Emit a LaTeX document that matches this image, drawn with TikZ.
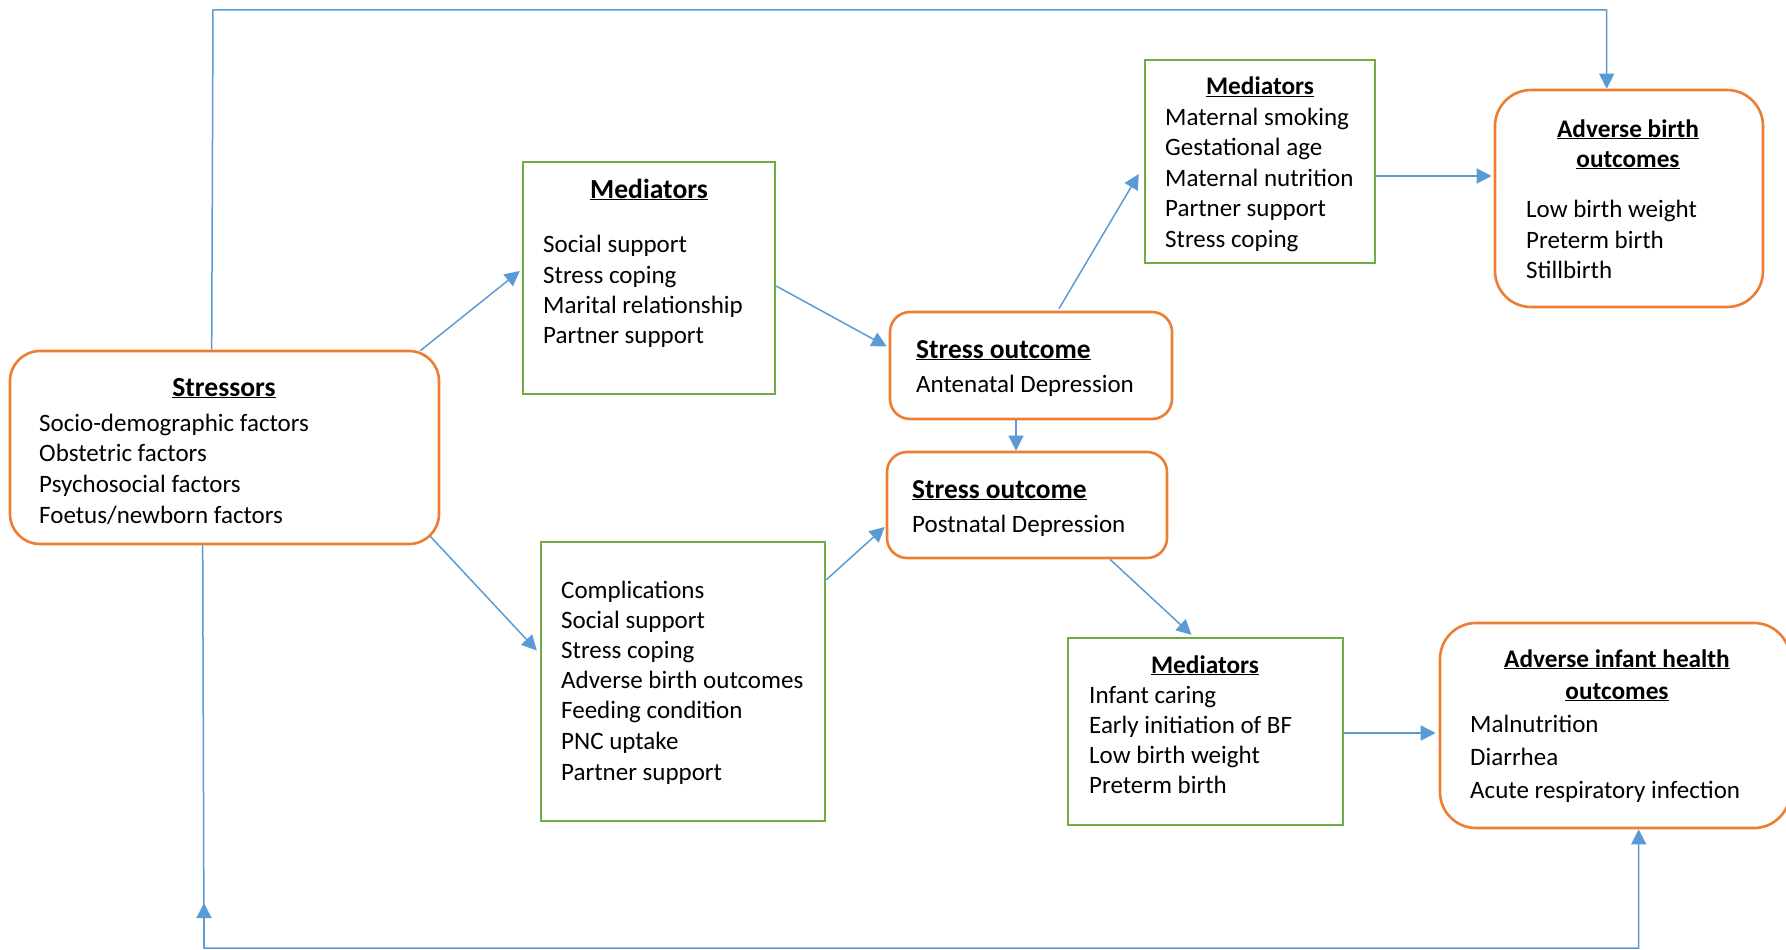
\documentclass[tikz,border=0pt]{standalone}
\usepackage{fontspec}
\setmainfont{Carlito}
\usetikzlibrary{arrows.meta,calc}
\definecolor{boxorange}{HTML}{ED7D31}
\definecolor{boxgreen}{HTML}{70AD47}
\definecolor{linkblue}{HTML}{5B9BD5}
\begin{document}
\begin{tikzpicture}[x=1pt,y=-1pt,
  outcome/.style={draw=boxorange, line width=2.6pt, rounded corners=#1, inner sep=0pt, fill=white},
  outcome/.default=32pt,
  mediator/.style={draw=boxgreen, line width=2.4pt, inner sep=0pt, fill=white},
  link/.style={draw=linkblue, line width=1.5pt},
  arr/.style={link, -{Triangle[length=15pt,width=15pt]}},
  txt/.style={anchor=base west, inner sep=0pt, font=\fontsize{25}{30}\selectfont},
  ttl/.style={anchor=base, inner sep=0pt, font=\fontsize{25.3}{30}\selectfont\bfseries},
  ttlw/.style={anchor=base west, inner sep=0pt, font=\fontsize{27.4}{32}\selectfont\bfseries},
  bigttl/.style={ttl, font=\fontsize{27.6}{32}\selectfont\bfseries}]
\useasboundingbox (0,0) rectangle (1786,950);

% boxes
\node[outcome=30pt, minimum width=429, minimum height=193] (str) at (224.5,447.5) {};
\node[mediator, minimum width=252, minimum height=232] (med1) at (649,278) {};
\node[outcome=20pt, minimum width=282, minimum height=107] (ante) at (1031,365.5) {};
\node[outcome=20pt, minimum width=280, minimum height=106] (post) at (1027,505) {};
\node[mediator, minimum width=230, minimum height=203] (med2) at (1260,161.5) {};
\node[outcome=36pt, minimum width=268, minimum height=217] (birth) at (1629,198.5) {};
\node[mediator, minimum width=284, minimum height=279] (comp) at (683,681.5) {};
\node[mediator, minimum width=275, minimum height=187] (med3) at (1205.5,731.5) {};
\node[outcome=36pt, minimum width=350, minimum height=205] (inf) at (1615,725.5) {};

% stressors
\node[bigttl] (strT) at (224,396) {\underline{Stressors}};
\node[txt] (str1) at (39,431) {Socio-demographic factors};
\node[txt] (str2) at (39,461) {Obstetric factors};
\node[txt] (str3) at (39,492) {Psychosocial factors};
\node[txt] (str4) at (39,523) {Foetus/newborn factors};

% first mediators
\node[bigttl] (med1T) at (649,198) {\underline{Mediators}};
\node[txt] (med1a) at (543,252) {Social support};
\node[txt] (med1b) at (543,283) {Stress coping};
\node[txt] (med1c) at (543,313) {Marital relationship};
\node[txt] (med1d) at (543,343) {Partner support};

% stress outcomes
\node[ttlw] (anteT) at (916,358) {\underline{Stress outcome}};
\node[txt] (ante1) at (916,392) {Antenatal Depression};
\node[ttlw] (postT) at (912,498) {\underline{Stress outcome}};
\node[txt] (post1) at (912,532) {Postnatal Depression};

% second mediators
\node[ttl] (med2T) at (1260,95) {\underline{Mediators}};
\node[txt] (med2a) at (1165,125) {Maternal smoking};
\node[txt] (med2b) at (1165,155.5) {Gestational age};
\node[txt] (med2c) at (1165,186) {Maternal nutrition};
\node[txt] (med2d) at (1165,216.5) {Partner support};
\node[txt] (med2e) at (1165,247) {Stress coping};

% adverse birth outcomes
\node[ttl] (birthT1) at (1628,137) {\underline{Adverse birth}};
\node[ttl] (birthT2) at (1628,167) {\underline{outcomes}};
\node[txt] (birth1) at (1526,217) {Low birth weight};
\node[txt] (birth2) at (1526,248) {Preterm birth};
\node[txt] (birth3) at (1526,278) {Stillbirth};

% postnatal factors
\node[txt] (comp1) at (561,598) {Complications};
\node[txt] (comp2) at (561,628) {Social support};
\node[txt] (comp3) at (561,658) {Stress coping};
\node[txt] (comp4) at (561,688) {Adverse birth outcomes};
\node[txt] (comp5) at (561,718) {Feeding condition};
\node[txt] (comp6) at (561,749) {PNC uptake};
\node[txt] (comp7) at (561,780) {Partner support};

% third mediators
\node[ttl] (med3T) at (1205,673) {\underline{Mediators}};
\node[txt] (med3a) at (1089,703) {Infant caring};
\node[txt] (med3b) at (1089,733) {Early initiation of BF};
\node[txt] (med3c) at (1089,763) {Low birth weight};
\node[txt] (med3d) at (1089,793) {Preterm birth};

% adverse infant health outcomes
\node[ttl] (infT1) at (1617,667) {\underline{Adverse infant health}};
\node[ttl] (infT2) at (1617,699) {\underline{outcomes}};
\node[txt] (inf1) at (1470,732) {Malnutrition};
\node[txt] (inf2) at (1470,765) {Diarrhea};
\node[txt] (inf3) at (1470,798) {Acute respiratory infection};

% connectors
\coordinate (topbend) at (213,10);
\coordinate (botbend) at (204,948);
\draw[arr] ($(str.north west)+(203,0)$) -- (topbend) -| ($(birth.north west)+(113,0)$);
\draw[arr] ($(str.south west)+(194,0)$) -- (botbend) -| ($(inf.south west)+(200,0)$);
\draw[arr] (botbend) -- ++(0,-45);
\draw[arr] ($(str.north east)+(-20,1)$) -- ($(med1.west)+(-2,-7)$);
\draw[arr] ($(med1.east)+(0,8)$) -- ($(ante.west)+(-2,-19)$);
\draw[arr] ($(ante.north)+(28,-2)$) -- ($(med2.west)+(-5,12.5)$);
\draw[arr] ($(med2.east)+(0,14.5)$) -- ($(birth.west)+(-2,-22.5)$);
\draw[arr] ($(ante.south)+(-15,0)$) -- ($(post.north)+(-11,0)$);
\draw[arr] ($(str.south east)+(-10,-9)$) -- ($(comp.west)+(-3,-31)$);
\draw[arr] ($(comp.north east)+(0,39)$) -- ($(post.west)+(-1,22)$);
\draw[arr] ($(post.south)+(83,0)$) -- ($(med3.north)+(-14,-2)$);
\draw[arr] ($(med3.east)+(0,1.5)$) -- ($(inf.west)+(-3,7.5)$);
\end{tikzpicture}
\end{document}
